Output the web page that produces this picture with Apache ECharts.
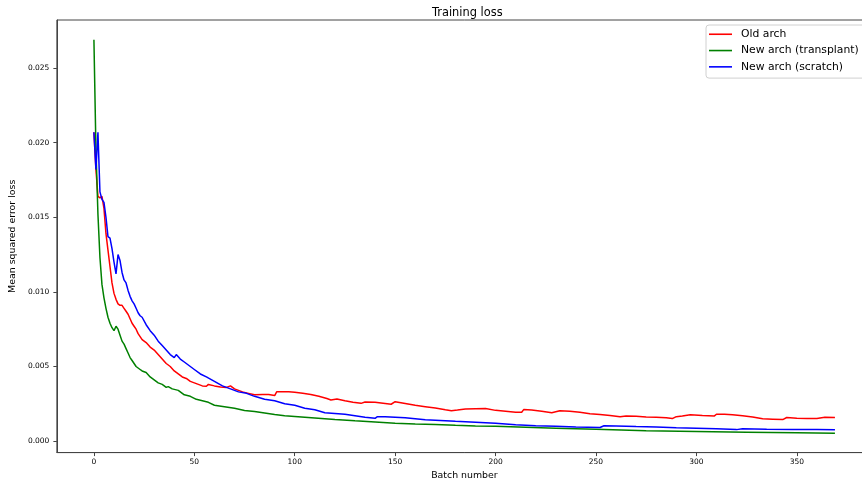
<!DOCTYPE html>
<html>
<head>
<meta charset="utf-8">
<script src="https://cdn.jsdelivr.net/npm/echarts@6/dist/echarts.min.js"></script>
<style>
html,body{margin:0;padding:0;overflow:hidden;background:#fff;width:862px;height:485px;}
#chart{width:880px;height:485px;}
</style>
</head>
<body>
<div id="chart"></div>
<script>
const seriesNames = ['Old arch', 'New arch (transplant)', 'New arch (scratch)'];
const xTicks = [0, 50, 100, 150, 200, 250, 300, 350];
const yTicks = [0, 0.005, 0.010, 0.015, 0.020, 0.025];

const oldBatches = [0,1,2,3,4,5,6,7,8,9,10,11,12,13,14,15,16,17,18,19,20,21,22,23,24,26,28,30,32,34,36,38,40,42,44,46,48,50,52,54,56,57,60,63,66,68,70,72,74,77,80,84,87,90,91,94,97,100,104,108,112,116,118,121,125,129,133,135,140,145,148,150,155,160,165,170,175,178,181,185,190,195,200,205,210,213,214,218,223,228,232,237,242,247,252,257,262,265,270,275,280,285,288,290,293,297,303,309,310,314,318,323,328,333,338,343,345,350,355,360,364,369];
const oldLoss = [0.0207,0.0182,0.0164,0.0163,0.0164,0.0156,0.0139,0.0128,0.0117,0.0106,0.0099,0.0095,0.0092,0.0091,0.0091,0.0089,0.0087,0.0085,0.0082,0.0079,0.0077,0.0075,0.0072,0.0070,0.0068,0.0066,0.0063,0.0061,0.0058,0.0055,0.0052,0.0050,0.0047,0.0045,0.0043,0.0042,0.0040,0.0039,0.0038,0.0037,0.00368,0.0038,0.0037,0.00362,0.0036,0.0037,0.0035,0.0034,0.0033,0.0032,0.0031,0.00312,0.00312,0.00305,0.0033,0.0033,0.0033,0.00327,0.0032,0.00313,0.0030,0.00285,0.00276,0.00282,0.0027,0.0026,0.00253,0.00262,0.0026,0.00252,0.00247,0.00264,0.00252,0.0024,0.00231,0.00222,0.0021,0.00204,0.00208,0.00215,0.00217,0.00218,0.00206,0.00200,0.00194,0.00193,0.00211,0.00208,0.00200,0.00190,0.00204,0.0020,0.00193,0.00184,0.00178,0.00172,0.00163,0.00169,0.00166,0.00162,0.00160,0.00157,0.00151,0.00164,0.00168,0.00176,0.00172,0.00169,0.0018,0.0018,0.00176,0.00170,0.00162,0.00150,0.00147,0.00144,0.00158,0.00154,0.00152,0.00151,0.0016,0.00158];

const transBatches = [0,1,2,3,4,5,6,7,8,9,10,11,12,13,14,15,16,17,18,19,20,21,22,23,24,26,28,30,32,34,36,37,39,42,45,48,51,54,57,60,65,70,75,80,85,90,95,100,110,120,130,140,150,160,170,180,190,200,215,230,250,275,300,325,350,369];
const transLoss = [0.0269,0.0196,0.0152,0.0123,0.0105,0.0096,0.0089,0.0083,0.0079,0.0076,0.0074,0.0077,0.0075,0.0071,0.0067,0.0065,0.0062,0.0059,0.0056,0.0054,0.0052,0.0050,0.0049,0.0048,0.0047,0.0046,0.0043,0.0041,0.0039,0.0038,0.0036,0.00365,0.0035,0.0034,0.0031,0.0030,0.0028,0.0027,0.0026,0.0024,0.0023,0.0022,0.00205,0.00198,0.00188,0.00178,0.0017,0.00165,0.00155,0.00145,0.00136,0.00128,0.0012,0.00115,0.00111,0.00106,0.00102,0.00099,0.00093,0.00087,0.00079,0.00069,0.00064,0.0006,0.00056,0.00053];

const scratchBatches = [0,1,2,3,4,5,6,7,8,9,10,11,12,13,14,15,16,17,18,19,20,21,22,23,24,26,28,30,32,34,36,38,40,41,43,45,47,50,53,56,60,64,68,72,76,80,85,90,95,100,105,110,115,120,125,130,135,140,141,145,150,155,160,165,170,175,180,190,200,210,220,230,240,252,254,260,270,280,290,300,310,320,323,335,348,360,369];
const scratchLoss = [0.0207,0.0182,0.0207,0.0167,0.0162,0.0160,0.0150,0.0137,0.0136,0.0129,0.0120,0.0112,0.0125,0.0121,0.0113,0.0108,0.0106,0.0101,0.0097,0.0094,0.0092,0.0089,0.0086,0.0084,0.0083,0.0078,0.0074,0.0071,0.0067,0.0064,0.0061,0.0058,0.0056,0.0058,0.0055,0.0053,0.0051,0.0048,0.0045,0.0043,0.0040,0.0037,0.0035,0.0033,0.0032,0.0030,0.0028,0.0027,0.0025,0.0024,0.0022,0.0021,0.0019,0.00185,0.0018,0.0017,0.0016,0.00153,0.00163,0.00163,0.0016,0.00157,0.0015,0.00143,0.0014,0.00137,0.00133,0.00127,0.0012,0.0011,0.00103,0.00099,0.00095,0.00091,0.00103,0.00102,0.00098,0.00095,0.0009,0.00087,0.00082,0.00077,0.00083,0.0008,0.00078,0.00077,0.00076];

const colors = ['#ff0000', '#008000', '#0000ff'];
const zip = (xs, ys) => xs.map((x, i) => [x, ys[i]]);
const font = 'DejaVu Sans';

const chart = echarts.init(document.getElementById('chart'), null, {renderer: 'canvas'});
chart.setOption({
  animation: false,
  backgroundColor: '#fff',
  title: {
    text: 'Training loss',
    left: 427, top: 3,
    textStyle: {fontFamily: font, fontSize: 11.4, fontWeight: 'normal', color: '#000'}
  },
  legend: {
    data: seriesNames,
    orient: 'vertical',
    left: 706, top: 25,
    icon: 'rect',
    itemWidth: 23, itemHeight: 1.6,
    itemGap: 3.8,
    padding: [3, 8, 5, 3],
    backgroundColor: 'rgba(255,255,255,0.85)',
    borderColor: '#d0d0d0', borderWidth: 1, borderRadius: 3,
    textStyle: {fontFamily: font, fontSize: 10.8, color: '#000', lineHeight: 12.5, padding: [0, 0, 0, 4]}
  },
  grid: {
    left: 54, top: 20, width: 818, height: 434,
    show: true, borderColor: '#444', borderWidth: 1, containLabel: false
  },
  xAxis: {
    type: 'value', min: -18.45, max: 387.45,
    name: 'Batch number', nameLocation: 'middle', nameGap: 16,
    nameTextStyle: {fontFamily: font, fontSize: 9.4, color: '#000'},
    axisLine: {show: true, onZero: false, lineStyle: {color: '#444', width: 1}},
    axisTick: {show: true, inside: false, length: 3.5, customValues: xTicks, lineStyle: {color: '#444'}},
    axisLabel: {customValues: xTicks, margin: 5.5, fontFamily: font, fontSize: 7.5, color: '#000'},
    splitLine: {show: false}
  },
  yAxis: {
    type: 'value', min: -0.00077, max: 0.02822,
    name: 'Mean squared error loss', nameLocation: 'middle', nameGap: 30,
    nameTextStyle: {fontFamily: font, fontSize: 9.4, color: '#000'},
    axisLine: {show: true, onZero: false, lineStyle: {color: '#444', width: 1}},
    axisTick: {show: true, inside: false, length: 3.5, customValues: yTicks, lineStyle: {color: '#444'}},
    axisLabel: {customValues: yTicks, margin: 7.5, fontFamily: font, fontSize: 7.5, color: '#000',
      formatter: v => v.toFixed(3)},
    splitLine: {show: false}
  },
  series: [
    {name: seriesNames[0], type: 'line', data: zip(oldBatches, oldLoss), showSymbol: false,
     color: colors[0], lineStyle: {width: 1.5, color: colors[0]}, z: 2},
    {name: seriesNames[1], type: 'line', data: zip(transBatches, transLoss), showSymbol: false,
     color: colors[1], lineStyle: {width: 1.5, color: colors[1]}, z: 3},
    {name: seriesNames[2], type: 'line', data: zip(scratchBatches, scratchLoss), showSymbol: false,
     color: colors[2], lineStyle: {width: 1.5, color: colors[2]}, z: 4}
  ]
});
</script>
</body>
</html>
